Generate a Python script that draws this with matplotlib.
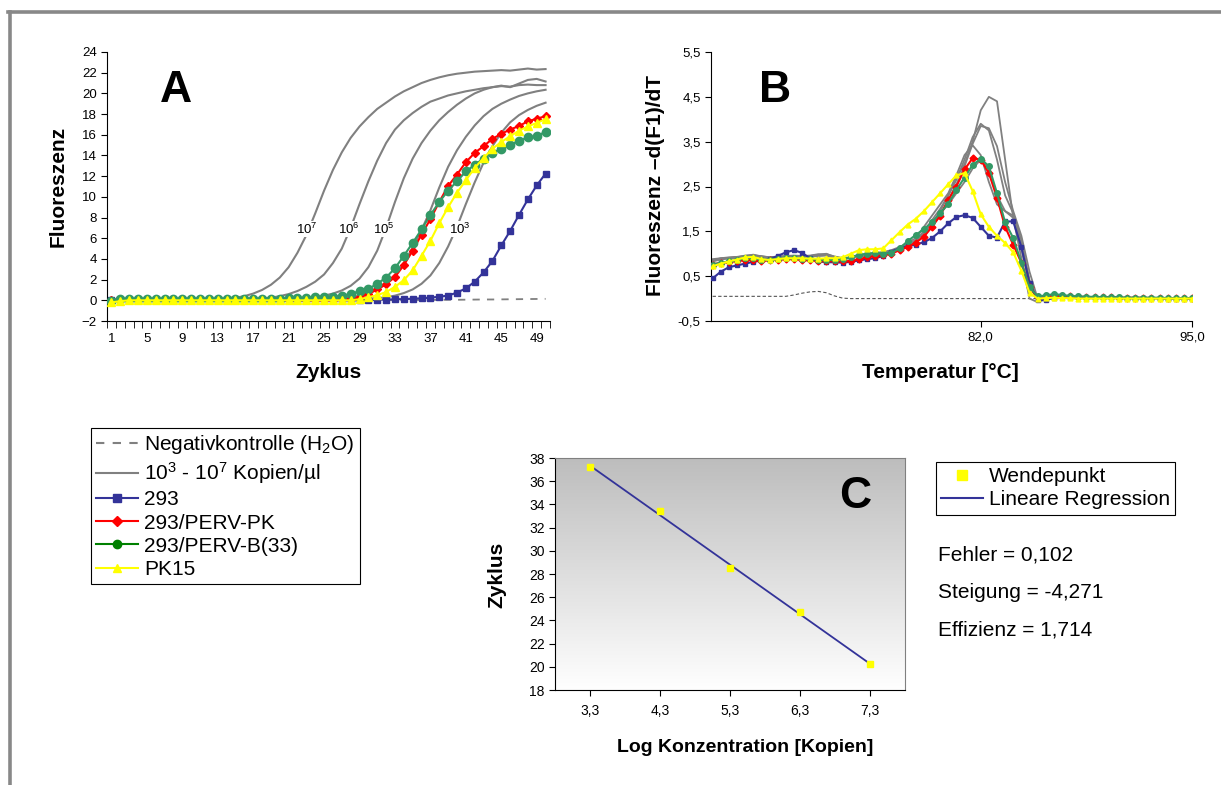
import numpy as np
import matplotlib
matplotlib.use("Agg")
import matplotlib.pyplot as plt
from matplotlib.lines import Line2D
from matplotlib.colors import LinearSegmentedColormap

plt.rcParams['font.family'] = ['Liberation Sans', 'DejaVu Sans']
plt.rcParams['mathtext.fontset'] = 'custom'
plt.rcParams['mathtext.rm'] = 'Liberation Sans'
plt.rcParams['mathtext.it'] = 'Liberation Sans:italic'
plt.rcParams['mathtext.bf'] = 'Liberation Sans:bold'

# ---------------- Panel A: amplification curves ----------------
cycles = list(range(1, 51))
xlabels_a = [1, 5, 9, 13, 17, 21, 25, 29, 33, 37, 41, 45, 49]

neg_a = [0.0, 0.0, 0.0, 0.0, 0.0, 0.0, 0.0, 0.0, 0.0, 0.0,
         0.0, 0.0, 0.0, 0.0, 0.0, 0.0, 0.0, 0.0, 0.0, 0.0,
         0.0, 0.0, 0.0, 0.0, 0.0, 0.0, 0.0, 0.0, 0.0, 0.0,
         0.01, 0.01, 0.02, 0.02, 0.03, 0.03, 0.04, 0.04, 0.05, 0.05,
         0.06, 0.07, 0.08, 0.08, 0.09, 0.10, 0.11, 0.12, 0.13, 0.14]

std_1e7 = [0.1, 0.1, 0.1, 0.1, 0.1, 0.1, 0.1, 0.1, 0.1, 0.1,
           0.1, 0.1, 0.1, 0.15, 0.25, 0.4, 0.65, 1.0, 1.5, 2.2,
           3.2, 4.6, 6.3, 8.4, 10.6, 12.6, 14.3, 15.7, 16.8, 17.7,
           18.5, 19.1, 19.7, 20.2, 20.6, 21.0, 21.3, 21.55, 21.75, 21.9,
           22.0, 22.1, 22.15, 22.2, 22.25, 22.2, 22.3, 22.4, 22.3, 22.35]
std_1e6 = [0.1, 0.1, 0.1, 0.1, 0.1, 0.1, 0.1, 0.1, 0.1, 0.1,
           0.1, 0.1, 0.1, 0.1, 0.1, 0.1, 0.1, 0.15, 0.25, 0.4,
           0.6, 0.9, 1.3, 1.8, 2.5, 3.6, 5.0, 7.0, 9.3, 11.5,
           13.5, 15.2, 16.5, 17.4, 18.1, 18.7, 19.2, 19.5, 19.8, 20.0,
           20.2, 20.35, 20.5, 20.6, 20.7, 20.65, 20.8, 20.85, 20.8, 20.8]
std_1e5 = [0.1, 0.1, 0.1, 0.1, 0.1, 0.1, 0.1, 0.1, 0.1, 0.1,
           0.1, 0.1, 0.1, 0.1, 0.1, 0.1, 0.1, 0.1, 0.1, 0.1,
           0.1, 0.15, 0.2, 0.3, 0.45, 0.65, 0.95, 1.4, 2.1, 3.2,
           4.8, 7.0, 9.5, 11.8, 13.7, 15.2, 16.4, 17.4, 18.2, 18.9,
           19.5, 20.0, 20.35, 20.6, 20.75, 20.6, 20.95, 21.3, 21.4, 21.15]
std_1e4 = [0.1, 0.1, 0.1, 0.1, 0.1, 0.1, 0.1, 0.1, 0.1, 0.1,
           0.1, 0.1, 0.1, 0.1, 0.1, 0.1, 0.1, 0.1, 0.1, 0.1,
           0.1, 0.1, 0.1, 0.1, 0.1, 0.15, 0.2, 0.3, 0.45, 0.7,
           1.05, 1.6, 2.4, 3.6, 5.1, 6.8, 8.7, 10.9, 12.9, 14.5,
           15.8, 16.9, 17.8, 18.5, 19.0, 19.4, 19.75, 20.0, 20.2, 20.35]
std_1e3 = [0.1, 0.1, 0.1, 0.1, 0.1, 0.1, 0.1, 0.1, 0.1, 0.1,
           0.1, 0.1, 0.1, 0.1, 0.1, 0.1, 0.1, 0.1, 0.1, 0.1,
           0.1, 0.1, 0.1, 0.1, 0.1, 0.1, 0.1, 0.1, 0.1, 0.15,
           0.2, 0.3, 0.45, 0.7, 1.05, 1.6, 2.4, 3.6, 5.2, 7.1,
           9.3, 11.4, 13.3, 14.9, 16.2, 17.2, 17.9, 18.4, 18.8, 19.1]

s293_a = [0.05, 0.0, 0.0, 0.0, 0.0, 0.0, 0.0, 0.0, 0.0, 0.0,
          0.0, 0.0, 0.0, 0.0, 0.0, 0.0, 0.0, 0.0, 0.0, 0.0,
          0.0, 0.0, 0.0, 0.0, 0.0, 0.0, 0.0, 0.0, 0.0, 0.02,
          0.05, 0.07, 0.1, 0.12, 0.15, 0.2, 0.25, 0.35, 0.45, 0.75,
          1.15, 1.8, 2.7, 3.8, 5.3, 6.7, 8.25, 9.75, 11.1, 12.25]
pk_a = [0.0, 0.05, 0.05, 0.05, 0.05, 0.05, 0.05, 0.05, 0.05, 0.05,
        0.05, 0.05, 0.05, 0.05, 0.05, 0.05, 0.05, 0.05, 0.05, 0.05,
        0.05, 0.05, 0.05, 0.05, 0.05, 0.05, 0.1, 0.15, 0.3, 0.6,
        1.05, 1.55, 2.25, 3.4, 4.8, 6.35, 7.85, 9.5, 11.05, 12.15,
        13.35, 14.25, 14.9, 15.6, 16.1, 16.5, 16.85, 17.3, 17.55, 17.8]
b33_a = [-0.1, 0.15, 0.15, 0.15, 0.15, 0.15, 0.15, 0.15, 0.15, 0.15,
         0.15, 0.15, 0.15, 0.15, 0.15, 0.15, 0.15, 0.15, 0.15, 0.15,
         0.2, 0.2, 0.25, 0.3, 0.3, 0.35, 0.45, 0.6, 0.9, 1.1,
         1.6, 2.2, 3.1, 4.3, 5.55, 6.85, 8.25, 9.5, 10.6, 11.5,
         12.45, 13.1, 13.7, 14.25, 14.65, 15.05, 15.4, 15.75, 15.85, 16.3]
pk15_a = [-0.2, -0.08, 0.0, 0.0, 0.0, 0.0, 0.0, 0.0, 0.0, 0.0,
          0.0, 0.0, 0.0, 0.0, 0.0, 0.0, 0.0, 0.0, 0.0, 0.0,
          0.0, 0.0, 0.0, 0.0, 0.0, 0.0, 0.0, 0.0, 0.1, 0.3,
          0.5, 0.8, 1.3, 1.95, 2.9, 4.3, 5.75, 7.45, 9.0, 10.4,
          11.6, 12.8, 13.75, 14.65, 15.3, 15.85, 16.4, 16.8, 17.15, 17.5]

std_labels = ['10$^7$', '10$^6$', '10$^5$', '10$^3$']
std_label_cycle = [23.0, 27.8, 31.7, 40.3]

# ---------------- Panel B: melting curves ----------------
temps = np.arange(65.5, 95.01, 0.5)

neg_b = [0.05, 0.05, 0.05, 0.05, 0.05, 0.05, 0.05, 0.05, 0.05, 0.05,
         0.08, 0.12, 0.15, 0.16, 0.13, 0.06, 0.01, 0.0, 0.0, 0.0,
         0.0, 0.0, 0.0, 0.0, 0.0, 0.0, 0.0, 0.0, 0.0, 0.0,
         0.0, 0.0, 0.0, 0.0, 0.0, 0.0, 0.0, 0.0, 0.0, 0.0,
         0.0, 0.0, 0.0, 0.0, 0.0, 0.0, 0.0, 0.0, 0.0, 0.0,
         0.0, 0.0, 0.0, 0.0, 0.0, 0.0, 0.0, 0.0, 0.0, 0.0]

melt_std_1 = [0.85, 0.9, 0.92, 0.93, 0.95, 0.98, 0.94, 0.92, 0.94, 0.95,
              0.96, 0.95, 0.95, 0.98, 1.0, 0.93, 0.9, 0.92, 0.95, 0.97,
              1.0, 1.02, 1.05, 1.12, 1.2, 1.3, 1.45, 1.65, 1.95, 2.3,
              2.7, 3.0, 3.5, 4.2, 4.5, 4.4, 3.1, 1.8, 0.9, 0.0,
              -0.08, 0.0, 0.05, 0.05, 0.04, 0.03, 0.03, 0.02, 0.02, 0.02,
              0.02, 0.01, 0.01, 0.01, 0.01, 0.01, 0.0, 0.0, 0.0, 0.0]
melt_std_2 = [0.88, 0.9, 0.9, 0.92, 0.96, 0.97, 0.93, 0.91, 0.93, 0.94,
              0.95, 0.95, 0.96, 0.99, 0.98, 0.92, 0.9, 0.91, 0.94, 0.96,
              0.98, 1.0, 1.04, 1.1, 1.18, 1.3, 1.5, 1.75, 2.0, 2.3,
              2.65, 3.1, 3.6, 3.9, 3.75, 3.1, 2.3, 1.9, 1.3, 0.4,
              -0.05, -0.02, 0.04, 0.05, 0.04, 0.03, 0.03, 0.02, 0.02, 0.02,
              0.02, 0.01, 0.01, 0.01, 0.01, 0.01, 0.0, 0.0, 0.0, 0.0]
melt_std_3 = [0.86, 0.89, 0.91, 0.93, 0.94, 0.96, 0.95, 0.92, 0.92, 0.94,
              0.95, 0.94, 0.95, 0.97, 0.99, 0.94, 0.9, 0.92, 0.95, 0.98,
              1.0, 1.01, 1.03, 1.08, 1.15, 1.25, 1.4, 1.6, 1.85, 2.2,
              2.55, 2.95, 3.45, 3.85, 3.8, 3.4, 2.6, 1.95, 1.4, 0.6,
              0.0, -0.05, 0.03, 0.05, 0.04, 0.03, 0.03, 0.02, 0.02, 0.02,
              0.02, 0.01, 0.01, 0.01, 0.01, 0.01, 0.0, 0.0, 0.0, 0.0]
melt_std_4 = [0.84, 0.88, 0.9, 0.92, 0.94, 0.96, 0.93, 0.9, 0.92, 0.94,
              0.95, 0.94, 0.94, 0.96, 0.97, 0.92, 0.89, 0.91, 0.96, 0.99,
              1.02, 1.04, 1.08, 1.15, 1.24, 1.35, 1.6, 1.85, 2.1, 2.35,
              2.75, 3.2, 3.42, 3.2, 2.6, 2.1, 1.95, 1.8, 1.2, 0.4,
              -0.05, -0.03, 0.04, 0.05, 0.04, 0.03, 0.03, 0.02, 0.02, 0.02,
              0.02, 0.01, 0.01, 0.01, 0.01, 0.01, 0.0, 0.0, 0.0, 0.0]
melt_std_5 = [0.83, 0.87, 0.9, 0.91, 0.93, 0.95, 0.92, 0.9, 0.91, 0.93,
              0.94, 0.93, 0.93, 0.95, 0.96, 0.91, 0.88, 0.9, 0.94, 0.97,
              1.0, 1.02, 1.06, 1.12, 1.2, 1.3, 1.5, 1.7, 1.9, 2.1,
              2.35, 2.6, 2.9, 3.1, 2.9, 2.3, 1.95, 1.85, 1.1, 0.3,
              -0.05, -0.02, 0.04, 0.05, 0.04, 0.03, 0.03, 0.02, 0.02, 0.02,
              0.02, 0.01, 0.01, 0.01, 0.01, 0.01, 0.0, 0.0, 0.0, 0.0]

s293_b = [0.45, 0.6, 0.7, 0.74, 0.78, 0.82, 0.85, 0.88, 0.95, 1.03,
          1.08, 1.02, 0.9, 0.83, 0.81, 0.81, 0.8, 0.82, 0.85, 0.88,
          0.9, 0.95, 1.05, 1.12, 1.17, 1.2, 1.26, 1.35, 1.5, 1.68,
          1.82, 1.86, 1.8, 1.6, 1.4, 1.36, 1.72, 1.72, 1.15, 0.35,
          -0.04, -0.03, 0.02, 0.03, 0.03, 0.03, 0.02, 0.02, 0.02, 0.02,
          0.01, 0.01, 0.01, 0.01, 0.01, 0.01, 0.0, 0.0, 0.0, 0.0]
pk_b = [0.76, 0.8, 0.82, 0.84, 0.86, 0.86, 0.84, 0.85, 0.87, 0.88,
        0.88, 0.86, 0.85, 0.84, 0.84, 0.83, 0.83, 0.84, 0.88, 0.92,
        0.95, 0.97, 1.0, 1.08, 1.15, 1.25, 1.38, 1.6, 1.85, 2.2,
        2.5, 2.88, 3.13, 3.1, 2.8, 2.25, 1.6, 1.2, 0.8, 0.25,
        0.03, 0.05, 0.06, 0.06, 0.05, 0.04, 0.04, 0.03, 0.03, 0.03,
        0.02, 0.02, 0.02, 0.02, 0.01, 0.01, 0.01, 0.01, 0.01, 0.01]
b33_b = [0.76, 0.8, 0.83, 0.86, 0.9, 0.9, 0.87, 0.86, 0.88, 0.9,
         0.9, 0.89, 0.88, 0.87, 0.86, 0.86, 0.88, 0.92, 0.98, 1.0,
         1.02, 1.0, 1.02, 1.12, 1.28, 1.42, 1.55, 1.7, 1.9, 2.12,
         2.42, 2.7, 2.98, 3.12, 2.95, 2.35, 1.7, 1.35, 0.8, 0.25,
         0.05, 0.07, 0.1, 0.08, 0.06, 0.05, 0.04, 0.04, 0.03, 0.03,
         0.03, 0.02, 0.02, 0.02, 0.02, 0.02, 0.01, 0.01, 0.01, 0.01]
pk15_b = [0.72, 0.78, 0.83, 0.87, 0.92, 0.93, 0.88, 0.86, 0.88, 0.9,
          0.9, 0.9, 0.89, 0.89, 0.9, 0.9, 0.92, 1.0, 1.08, 1.1,
          1.1, 1.12, 1.3, 1.48, 1.65, 1.78, 1.95, 2.15, 2.35, 2.55,
          2.75, 2.8, 2.4, 1.88, 1.6, 1.4, 1.24, 1.03, 0.62, 0.13,
          0.0, 0.01, 0.02, 0.01, 0.01, 0.0, 0.0, 0.0, 0.0, 0.0,
          0.0, 0.0, 0.0, 0.0, 0.0, 0.0, 0.0, 0.0, 0.0, 0.0]

yticks_b = [-0.5, 0.5, 1.5, 2.5, 3.5, 4.5, 5.5]
xticks_b = [82.0, 95.0]

# ---------------- Panel C: standard curve ----------------
log_conc = [3.3, 4.3, 5.3, 6.3, 7.3]
wendepunkt = [37.2, 33.4, 28.5, 24.7, 20.2]
stats = ['Fehler = 0,102', 'Steigung = -4,271', 'Effizienz = 1,714']

GRAY = '#808080'
BLUE = '#333399'
RED = '#ff0000'
GREEN = '#339966'
YELLOW = '#ffff00'

W, H = 1221, 785


def box(l, t, r, b):
    return [l / W, 1 - b / H, (r - l) / W, (b - t) / H]


def comma(v, fmt='{:.1f}'):
    return fmt.format(v).replace('.', ',')


fig = plt.figure(figsize=(W / 100, H / 100), dpi=100)

# outer frame (top and left edge only)
fig.add_artist(Line2D([8 / W, 1], [1 - 12 / H, 1 - 12 / H], color='#888888', lw=2.6))
fig.add_artist(Line2D([9.5 / W, 9.5 / W], [0, 1 - 12 / H], color='#888888', lw=2.6))

# ---- A ----
axA = fig.add_axes(box(107, 52, 550, 321))
for s in [std_1e7, std_1e6, std_1e5, std_1e4, std_1e3]:
    axA.plot(cycles, s, color=GRAY, lw=1.5, zorder=2)
axA.plot(cycles, neg_a, color=GRAY, lw=1.3, ls=(0, (4, 4)), zorder=2)
axA.plot(cycles, s293_a, color=BLUE, lw=1.5, marker='s', ms=5, zorder=3)
axA.plot(cycles, pk_a, color=RED, lw=1.5, marker='D', ms=4.5, zorder=3)
axA.plot(cycles, b33_a, color=GREEN, lw=1.5, marker='o', ms=6, zorder=3)
axA.plot(cycles, pk15_a, color=YELLOW, lw=1.5, marker='^', ms=6, zorder=3)
for lab, cx in zip(std_labels, std_label_cycle):
    axA.text(cx, 6.9, lab, fontsize=9.5, ha='center', va='center', zorder=2.5,
             bbox=dict(facecolor='white', edgecolor='none', pad=0.6))
axA.set_xlim(0.5, 50.5)
axA.set_ylim(-2, 24)
axA.set_yticks(range(-2, 25, 2))
axA.set_xticks(xlabels_a)
axA.set_xticks(np.arange(0.5, 51, 1), minor=True)
axA.tick_params(axis='x', which='major', length=0, pad=9, labelsize=9.5)
axA.tick_params(axis='x', which='minor', length=5, direction='out')
axA.tick_params(axis='y', length=4, direction='out', labelsize=9.5)
for sp in ['top', 'right']:
    axA.spines[sp].set_visible(False)
fig.text(58 / W, 1 - 186 / H, 'Fluoreszenz', rotation=90, fontsize=15, weight='bold',
         ha='center', va='center')
fig.text(328 / W, 1 - 372 / H, 'Zyklus', fontsize=15, weight='bold', ha='center', va='center')
fig.text(176 / W, 1 - 90 / H, 'A', fontsize=32, weight='bold', ha='center', va='center')

# ---- B ----
axB = fig.add_axes(box(711, 52, 1192, 321))
for s in [melt_std_1, melt_std_2, melt_std_3, melt_std_4, melt_std_5]:
    axB.plot(temps, s, color=GRAY, lw=1.3, zorder=2)
axB.plot(temps, neg_b, color='#555555', lw=0.8, ls=(0, (3, 2)), zorder=1)
axB.plot(temps, s293_b, color=BLUE, lw=1.5, marker='s', ms=3.5, zorder=3)
axB.plot(temps, pk_b, color=RED, lw=1.5, marker='D', ms=3.5, zorder=3)
axB.plot(temps, b33_b, color=GREEN, lw=1.5, marker='o', ms=4, zorder=3)
axB.plot(temps, pk15_b, color=YELLOW, lw=1.5, marker='^', ms=3.5, zorder=3)
axB.set_xlim(65.4, 95.0)
axB.set_ylim(-0.5, 5.5)
axB.set_yticks(yticks_b)
axB.set_yticklabels([comma(v) for v in yticks_b])
axB.set_xticks(xticks_b)
axB.set_xticklabels([comma(v) for v in xticks_b])
axB.tick_params(axis='both', length=4, direction='out', labelsize=9.5)
for sp in ['top', 'right']:
    axB.spines[sp].set_visible(False)
fig.text(655 / W, 1 - 186 / H, 'Fluoreszenz \u2013d(F1)/dT', rotation=90, fontsize=15,
         weight='bold', ha='center', va='center')
fig.text(940 / W, 1 - 372 / H, 'Temperatur [\u00b0C]', fontsize=15, weight='bold',
         ha='center', va='center')
fig.text(775 / W, 1 - 90 / H, 'B', fontsize=32, weight='bold', ha='center', va='center')

# ---- legend A ----
hA = [Line2D([], [], color=GRAY, lw=1.5, ls=(0, (4, 4))),
      Line2D([], [], color=GRAY, lw=1.5),
      Line2D([], [], color=BLUE, lw=1.5, marker='s', ms=6),
      Line2D([], [], color=RED, lw=1.5, marker='D', ms=5),
      Line2D([], [], color='#008000', lw=1.5, marker='o', ms=6),
      Line2D([], [], color=YELLOW, lw=1.5, marker='^', ms=6)]
lA = ['Negativkontrolle (H$_2$O)', '10$^3$ - 10$^7$ Kopien/\u00b5l', '293',
      '293/PERV-PK', '293/PERV-B(33)', 'PK15']
legA = fig.legend(hA, lA, loc='upper left', bbox_to_anchor=(91 / W, 1 - 428 / H),
                  fontsize=15, frameon=True, fancybox=False, edgecolor='black',
                  borderaxespad=0, handlelength=2.0, handletextpad=0.3,
                  labelspacing=0.2, borderpad=0.25, framealpha=1)
legA.get_frame().set_linewidth(0.8)

# ---- C ----
axC = fig.add_axes(box(555, 458, 905, 690))
grad = LinearSegmentedColormap.from_list('grad', ['#ffffff', '#bdbdbd'])
axC.imshow(np.linspace(0, 1, 256).reshape(-1, 1), cmap=grad, origin='lower',
           extent=[2.8, 7.8, 18, 38], aspect='auto', zorder=0)
slope, icpt = np.polyfit(log_conc, wendepunkt, 1)
xfit = np.array([log_conc[0], log_conc[-1]])
axC.plot(xfit, slope * xfit + icpt, color=BLUE, lw=1.3, zorder=2)
axC.plot(log_conc, wendepunkt, ls='none', marker='s', ms=5, color=YELLOW, zorder=3)
axC.set_xlim(2.8, 7.8)
axC.set_ylim(18, 38)
axC.set_yticks(range(18, 39, 2))
axC.set_xticks(log_conc)
axC.set_xticklabels([comma(v) for v in log_conc])
axC.tick_params(axis='both', length=4, direction='out', labelsize=10)
axC.tick_params(axis='x', pad=6)
for sp in ['top', 'right']:
    axC.spines[sp].set_color(GRAY)
fig.text(497 / W, 1 - 575 / H, 'Zyklus', rotation=90, fontsize=15, weight='bold',
         ha='center', va='center')
fig.text(745 / W, 1 - 748 / H, 'Log Konzentration [Kopien]', fontsize=14, weight='bold',
         ha='center', va='center')
fig.text(855 / W, 1 - 497 / H, 'C', fontsize=32, weight='bold', ha='center', va='center')

hC = [Line2D([], [], ls='none', marker='s', ms=7, color=YELLOW),
      Line2D([], [], color=BLUE, lw=1.5)]
legC = fig.legend(hC, ['Wendepunkt', 'Lineare Regression'], loc='upper left',
                  bbox_to_anchor=(936 / W, 1 - 462 / H), fontsize=15, frameon=True,
                  fancybox=False, edgecolor='black', borderaxespad=0, handlelength=2.0,
                  handletextpad=0.3, labelspacing=0.2, borderpad=0.25, framealpha=1)
legC.get_frame().set_linewidth(0.8)

for i, s in enumerate(stats):
    fig.text(938 / W, 1 - (555 + 37.5 * i) / H, s, fontsize=15, ha='left', va='center')

fig.savefig('out.png', dpi=100)
